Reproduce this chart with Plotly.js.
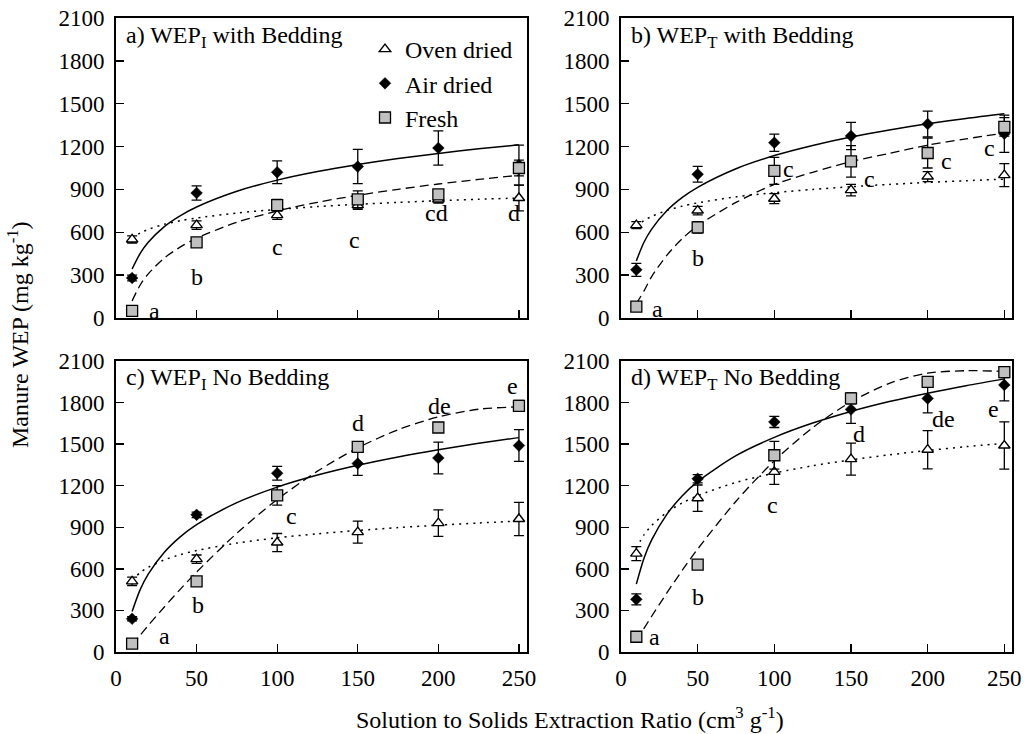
<!DOCTYPE html>
<html>
<head>
<meta charset="utf-8">
<script src="https://cdn.plot.ly/plotly-3.0.1.min.js"></script>
<style>html,body{margin:0;padding:0;background:#fff;}#chart{width:1026px;height:734px;}</style>
</head>
<body>
<div id="chart"></div>
<script>
// ---------------- data ----------------
const ratios = [10, 50, 100, 150, 200, 250];
const seriesNames = ['Oven dried', 'Air dried', 'Fresh'];
const panelTitles = ['a) WEP<sub>I</sub> with Bedding', 'b) WEP<sub>T</sub> with Bedding',
                     'c) WEP<sub>I</sub> No Bedding', 'd) WEP<sub>T</sub> No Bedding'];
const yTicks = [0, 300, 600, 900, 1200, 1500, 1800, 2100];
const xTicks = [0, 50, 100, 150, 200, 250];

// a) WEP_I with bedding
const aOven = [550, 650, 720, 790, 830, 840];
const aOvenErr = [25, 30, 30, 30, 25, 90];
const aAir = [280, 875, 1020, 1060, 1190, 1070];
const aAirErr = [20, 50, 80, 120, 120, 140];
const aFresh = [50, 530, 790, 830, 865, 1050];
const aFreshErr = [20, 25, 40, 60, 30, 55];
// b) WEP_T with bedding
const bOven = [650, 752, 835, 895, 990, 1000];
const bOvenErr = [25, 30, 35, 40, 35, 80];
const bAir = [337, 1006, 1227, 1274, 1358, 1290];
const bAirErr = [45, 55, 60, 95, 90, 130];
const bFresh = [80, 634, 1030, 1096, 1155, 1338];
const bFreshErr = [20, 40, 95, 110, 105, 65];
// c) WEP_I no bedding
const cOven = [510, 670, 790, 865, 930, 960];
const cOvenErr = [30, 30, 65, 80, 95, 120];
const cAir = [240, 990, 1290, 1360, 1400, 1490];
const cAirErr = [15, 20, 50, 85, 115, 115];
const cFresh = [60, 510, 1130, 1480, 1620, 1776];
const cFreshErr = [10, 15, 70, 30, 25, 40];
// d) WEP_T no bedding
const dOven = [710, 1110, 1300, 1392, 1460, 1490];
const dOvenErr = [50, 95, 90, 115, 138, 170];
const dAir = [380, 1250, 1660, 1750, 1830, 1927];
const dAirErr = [40, 30, 40, 100, 105, 115];
const dFresh = [110, 630, 1420, 1830, 1950, 2020];
const dFreshErr = [15, 15, 100, 40, 25, 40];

// fitted trend lines
const curveX = [10, 15, 20, 30, 40, 50, 75, 100, 125, 150, 175, 200, 225, 250];
const aOvenFit  = [560, 595, 620, 656, 681, 700, 735, 760, 780, 796, 809, 821, 831, 840];
const aAirFit   = [343, 452, 530, 640, 717, 777, 887, 965, 1025, 1074, 1116, 1152, 1184, 1212];
const aFreshFit = [120, 231, 309, 420, 498, 559, 670, 749, 810, 859, 901, 938, 970, 999];
const bOvenFit  = [640, 682, 711, 753, 783, 806, 848, 877, 900, 919, 935, 949, 961, 972];
const bAirFit   = [400, 530, 622, 752, 844, 915, 1045, 1137, 1208, 1267, 1316, 1359, 1397, 1430];
const bFreshFit = [100, 190, 290, 440, 556, 646, 809, 935, 1020, 1095, 1152, 1210, 1254, 1295];
const cOvenFit  = [520, 573, 611, 665, 703, 732, 786, 824, 853, 877, 898, 915, 931, 945];
const cAirFit   = [292, 450, 562, 720, 833, 920, 1078, 1190, 1277, 1348, 1408, 1460, 1506, 1547];
const cFreshFit = [50, 121, 191, 325, 454, 577, 857, 1100, 1305, 1473, 1604, 1697, 1752, 1770];
const dOvenFit  = [750, 845, 913, 1008, 1076, 1128, 1224, 1291, 1344, 1386, 1423, 1454, 1482, 1506];
const dAirFit   = [490, 677, 809, 995, 1128, 1230, 1417, 1549, 1652, 1736, 1807, 1868, 1922, 1971];
const dFreshFit = [80, 170, 258, 428, 590, 743, 1088, 1380, 1619, 1805, 1939, 2012, 2030, 2025];

// significance letters
const aLetters = ['a', 'b', 'c', 'c', 'cd', 'd'];
const bLetters = ['a', 'b', 'c', 'c', 'c', 'c'];
const cLetters = ['a', 'b', 'c', 'd', 'de', 'e'];
const dLetters = ['a', 'b', 'c', 'd', 'de', 'e'];

// ---------------- build ----------------
const FONT = '"Liberation Serif", "Times New Roman", Times, "DejaVu Serif", serif';
const TXT = 24, TICK = 23;
const panels = [
  {pts: [aOven, aAir, aFresh], err: [aOvenErr, aAirErr, aFreshErr], fit: [aOvenFit, aAirFit, aFreshFit], letters: aLetters},
  {pts: [bOven, bAir, bFresh], err: [bOvenErr, bAirErr, bFreshErr], fit: [bOvenFit, bAirFit, bFreshFit], letters: bLetters},
  {pts: [cOven, cAir, cFresh], err: [cOvenErr, cAirErr, cFreshErr], fit: [cOvenFit, cAirFit, cFreshFit], letters: cLetters},
  {pts: [dOven, dAir, dFresh], err: [dOvenErr, dAirErr, dFreshErr], fit: [dOvenFit, dAirFit, dFreshFit], letters: dLetters}
];
// letter positions (data coords) per panel
const letterPos = [
  [[24, 50], [50.5, 287], [100, 497], [148, 546], [199, 735], [247, 735]],
  [[24, 64], [50.5, 420], [109, 1040], [162, 975], [212, 1096], [240, 1190]],
  [[30, 115], [51, 338], [109, 985], [150, 1650], [200.5, 1776], [246, 1920]],
  [[22, 109], [50, 396], [99, 1064], [155, 1575], [210, 1684], [243, 1757]]
];
const lineStyles = [
  {color: 'black', width: 1.5, dash: '2px,5px'},
  {color: 'black', width: 1.5, dash: 'solid'},
  {color: 'black', width: 1.3, dash: '9px,5px'}
];
const markerStyles = [
  {symbol: 'triangle-up', size: 10, color: 'white', line: {color: 'black', width: 1.4}},
  {symbol: 'diamond', size: 9, color: 'black', line: {color: 'black', width: 0.5}},
  {symbol: 'square', size: 11, color: '#c0c0c0', line: {color: 'black', width: 1.3}}
];

const traces = [];
const annotations = [];
panels.forEach((p, i) => {
  const xa = 'x' + (i === 0 ? '' : i + 1);
  const ya = 'y' + (i === 0 ? '' : i + 1);
  for (let s = 0; s < 3; s++) {
    traces.push({
      x: curveX, y: p.fit[s], xaxis: xa, yaxis: ya, type: 'scatter', mode: 'lines',
      line: Object.assign({shape: 'spline', smoothing: 0.8}, lineStyles[s]),
      showlegend: false, hoverinfo: 'skip'
    });
  }
  for (let s = 0; s < 3; s++) {
    traces.push({
      x: ratios, y: p.pts[s], xaxis: xa, yaxis: ya, type: 'scatter', mode: 'markers',
      name: seriesNames[s], marker: markerStyles[s],
      error_y: {type: 'data', array: p.err[s], visible: true, color: 'black', thickness: 1.3, width: 5},
      showlegend: i === 0, legendgroup: 'g' + s
    });
  }
  p.letters.forEach((t, k) => {
    annotations.push({
      xref: xa, yref: ya, x: letterPos[i][k][0], y: letterPos[i][k][1], text: t,
      showarrow: false, xanchor: 'center', yanchor: 'middle',
      font: {family: FONT, size: TXT, color: 'black'}
    });
  });
  annotations.push({
    xref: xa + ' domain', yref: ya + ' domain', x: 0.02, y: 0.995, text: panelTitles[i],
    showarrow: false, xanchor: 'left', yanchor: 'top',
    font: {family: FONT, size: TXT, color: 'black'}
  });
});

annotations.push({
  xref: 'paper', yref: 'paper', x: 570 / 1026, y: 1 - 718 / 734,
  text: 'Solution to Solids Extraction Ratio (cm<sup>3</sup> g<sup>-1</sup>)',
  showarrow: false, xanchor: 'center', yanchor: 'middle',
  font: {family: FONT, size: TXT, color: 'black'}
});
annotations.push({
  xref: 'paper', yref: 'paper', x: 18 / 1026, y: 1 - 335 / 734,
  text: 'Manure WEP (mg kg<sup>-1</sup>)', textangle: -90,
  showarrow: false, xanchor: 'center', yanchor: 'middle',
  font: {family: FONT, size: TXT, color: 'black'}
});

const W = 1026, H = 734;
const xDomL = [116 / W, 527 / W], xDomR = [621 / W, 1012 / W];
const yDomT = [1 - 318 / H, 1 - 18 / H], yDomB = [1 - 652 / H, 1 - 361 / H];

function xAxis(dom, anchor, labels) {
  return {
    domain: dom, anchor: anchor, range: [0, 255], tickvals: xTicks, ticktext: xTicks.map(String),
    ticks: 'inside', ticklen: 8, tickwidth: 1.3, tickcolor: 'black',
    showline: true, linecolor: 'black', linewidth: 1.8, mirror: true,
    showgrid: false, zeroline: false, showticklabels: labels, ticklabelstandoff: 5,
    tickfont: {family: FONT, size: TICK, color: 'black'}, fixedrange: true
  };
}
function yAxis(dom, anchor) {
  return {
    domain: dom, anchor: anchor, range: [0, 2100], tickvals: yTicks, ticktext: yTicks.map(String),
    ticks: 'inside', ticklen: 8, tickwidth: 1.3, tickcolor: 'black',
    showline: true, linecolor: 'black', linewidth: 1.8, mirror: true,
    showgrid: false, zeroline: false, ticklabelstandoff: 5,
    tickfont: {family: FONT, size: TICK, color: 'black'}, fixedrange: true
  };
}

const layout = {
  width: W, height: H, margin: {l: 0, r: 0, t: 0, b: 0},
  paper_bgcolor: 'white', plot_bgcolor: 'white',
  font: {family: FONT, size: TXT, color: 'black'},
  xaxis: xAxis(xDomL, 'y', false), yaxis: yAxis(yDomT, 'x'),
  xaxis2: xAxis(xDomR, 'y2', false), yaxis2: yAxis(yDomT, 'x2'),
  xaxis3: xAxis(xDomL, 'y3', true), yaxis3: yAxis(yDomB, 'x3'),
  xaxis4: xAxis(xDomR, 'y4', true), yaxis4: yAxis(yDomB, 'x4'),
  showlegend: true,
  legend: {x: 365 / W, y: 1 - 27 / H, xanchor: 'left', yanchor: 'top', bgcolor: 'rgba(0,0,0,0)',
           font: {family: FONT, size: TXT, color: 'black'}, tracegroupgap: 0, traceorder: 'normal'},
  annotations: annotations
};

Plotly.newPlot('chart', traces, layout, {displayModeBar: false, staticPlot: true});
</script>
</body>
</html>
